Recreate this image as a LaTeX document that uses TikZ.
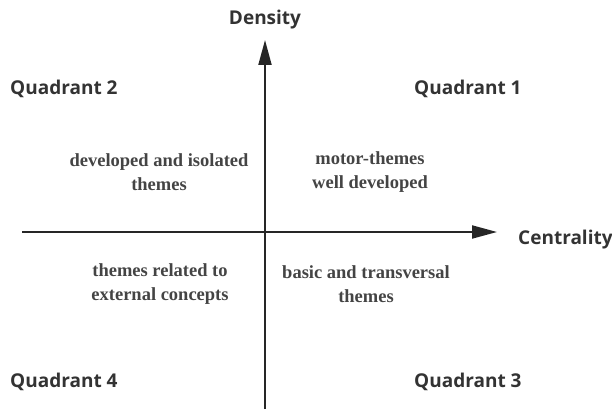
\documentclass[tikz,border=0pt]{standalone}
\usepackage{fontspec}
\setmainfont{Liberation Serif}
\newfontfamily\labfont{Open Sans}
\usetikzlibrary{arrows.meta}
\definecolor{labgray}{HTML}{333333}
\definecolor{txtgray}{HTML}{444444}
\begin{document}
\begin{tikzpicture}[x=1pt,y=-1pt,
  axis/.style={line width=2pt,draw=black!85,-{Triangle[length=25pt,width=13pt]}},
  quad/.style={font=\labfont\bfseries\fontsize{19}{22}\selectfont,text=labgray,inner sep=0pt},
  desc/.style={font=\bfseries\fontsize{18.5}{24.5}\selectfont,text=txtgray,align=center,inner sep=0pt}]
\useasboundingbox (0,0) rectangle (612,409);
\coordinate (vb) at (265,409);
\coordinate (vt) at (265,40);
\coordinate (hl) at (22,232);
\coordinate (hr) at (497,232);
\draw[axis] (vb) -- (vt);
\draw[axis] (hl) -- (hr);
\node[quad] (dens) at (265,20) {Density};
\node[quad,anchor=west] (cent) at (518,240) {Centrality};
\node[quad,anchor=west] (q2) at (10,89) {Quadrant 2};
\node[quad,anchor=west] (q1) at (414,89) {Quadrant 1};
\node[quad,anchor=west] (q4) at (10,382) {Quadrant 4};
\node[quad,anchor=west] (q3) at (414,382) {Quadrant 3};
\node[desc] (d2) at (159,172) {developed and isolated\\themes};
\node[desc] (d1) at (370,172) {motor-themes\\well developed};
\node[desc] (d4) at (160,284) {themes related to\\external concepts};
\node[desc] (d3) at (366,284) {basic and transversal\\themes};
\end{tikzpicture}
\end{document}
